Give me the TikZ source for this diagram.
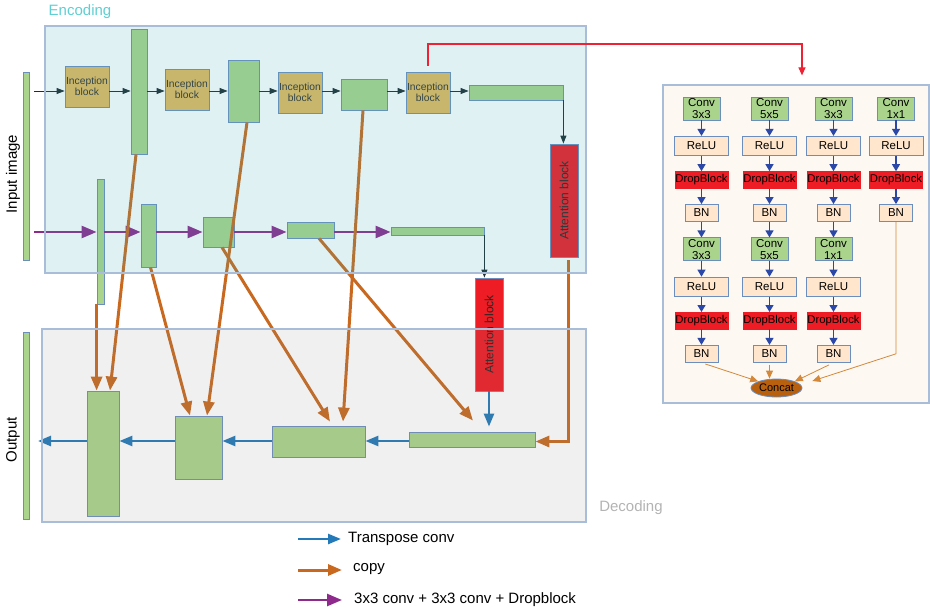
\documentclass[tikz,border=0pt]{standalone}
\usepackage{fontspec}
\setmainfont{Liberation Sans}
\usepackage{graphicx}
\usepackage{xcolor}
\definecolor{edgeBlue}{HTML}{6C8EBF}
\definecolor{incGold}{HTML}{E3B960}
\definecolor{featGreen}{HTML}{AAD48B}
\definecolor{attnRed}{HTML}{EE1C24}
\definecolor{flowDark}{HTML}{1E2D33}
\definecolor{convPurple}{HTML}{8E2A8C}
\definecolor{copyOrange}{HTML}{C8691F}
\definecolor{upBlue}{HTML}{2479B9}
\definecolor{linkRed}{HTML}{EE2233}
\definecolor{encCyan}{HTML}{3CAAB4}
\definecolor{decGray}{HTML}{888888}
\definecolor{panelFill}{HTML}{FDF8F2}
\definecolor{panelEdge}{HTML}{A9BDD9}
\definecolor{reluFill}{HTML}{FFE6CC}
\definecolor{catBrown}{HTML}{B9600F}
\definecolor{arrNavy}{HTML}{2B47A8}
\definecolor{catLine}{HTML}{D4893A}
\definecolor{encText}{HTML}{5ECFD2}
\definecolor{decText}{HTML}{B3B3B3}
\usepackage{tikz}
\usetikzlibrary{shapes.geometric, arrows.meta, positioning, calc}

\begin{document}
\begin{tikzpicture}[
    x=1pt, y=-1pt,
    incbox/.style={draw=edgeBlue, fill=incGold, rectangle, align=center, inner sep=0pt, line width=0.8pt, font=\fontsize{10.3}{11.5}\selectfont, text=black!80, minimum width=44pt, minimum height=41pt},
    feat/.style={draw=edgeBlue, fill=featGreen, rectangle, inner sep=0pt, line width=0.8pt},
    attnbox/.style={draw=edgeBlue, fill=attnRed, rectangle, inner sep=0pt, line width=0.8pt, minimum width=28pt, minimum height=113pt, font=\fontsize{12}{12}\selectfont, text=black!85},
    flow/.style={-{Triangle[length=8pt, width=6pt]}, draw=flowDark, line width=0.8pt},
    convarr/.style={-{Triangle[length=15pt, width=12pt]}, draw=convPurple, line width=2.5pt},
    copyarr/.style={-{Triangle[length=14pt, width=11pt]}, draw=copyOrange, line width=3pt},
    uparr/.style={-{Triangle[length=13pt, width=10pt]}, draw=upBlue, line width=2.5pt},
    link/.style={-{Triangle[length=8pt, width=7pt]}, draw=linkRed, line width=1.2pt},
    overlay/.style={draw=panelEdge, line width=1.2pt, rectangle, inner sep=0pt},
    panelbox/.style={draw=panelEdge, fill=panelFill, rectangle, line width=1.2pt, inner sep=0pt},
    pconv/.style={draw=edgeBlue, fill=featGreen, rectangle, align=center, inner sep=0pt, line width=0.8pt, font=\fontsize{11.5}{11.5}\selectfont, minimum width=37pt, minimum height=23pt},
    prelu/.style={draw=edgeBlue, fill=reluFill, rectangle, inner sep=0pt, line width=0.8pt, font=\fontsize{11.5}{11.5}\selectfont, minimum width=54pt, minimum height=19pt},
    pdrop/.style={draw=attnRed, fill=attnRed, rectangle, inner sep=0pt, font=\fontsize{11.3}{11.3}\selectfont, minimum width=53pt, minimum height=17pt},
    pbn/.style={draw=edgeBlue, fill=reluFill, rectangle, inner sep=0pt, line width=0.8pt, font=\fontsize{11.5}{11.5}\selectfont, minimum width=33pt, minimum height=17pt},
    parr/.style={-{Triangle[length=7pt, width=8pt]}, draw=arrNavy, line width=1.2pt},
    cat/.style={-{Triangle[length=8pt, width=7pt]}, draw=catLine, line width=0.8pt},
    legtext/.style={anchor=west, inner sep=0pt, font=\fontsize{15}{15}\selectfont},
    bigtext/.style={font=\fontsize{15}{15}\selectfont, inner sep=0pt},
    node distance=15.5pt
]
\useasboundingbox (0,0) rectangle (930,610);

% input / output bars
\node[feat, minimum width=6pt, minimum height=188pt] (inbar) at (26,166) {};
\node[feat, minimum width=6pt, minimum height=187pt] (outbar) at (26,425.5) {};
\node[bigtext, rotate=90] (inlabel) at (13,174) {Input image};
\node[bigtext, rotate=90] (outlabel) at (13,440) {Output};

% encoder, inception path
\node[incbox] (inc1) at (87,86.5) {Inception\\block};
\node[feat, minimum width=16pt, minimum height=125pt] (g1) at (139,91.5) {};
\node[incbox] (inc2) at (187,89.5) {Inception\\block};
\node[feat, minimum width=31pt, minimum height=62pt] (g2) at (243.5,91) {};
\node[incbox] (inc3) at (300,92.5) {Inception\\block};
\node[feat, minimum width=46pt, minimum height=31pt] (g3) at (364,94.5) {};
\node[incbox] (inc4) at (428,92.5) {Inception\\block};
\node[feat, minimum width=94pt, minimum height=15pt] (g4) at (516,92.5) {};
\node[attnbox] (at1) at (564,200.5) {\rotatebox{90}{Attention block}};

% encoder, plain path
\node[feat, minimum width=7pt, minimum height=125pt] (gA) at (100.5,241.5) {};
\node[feat, minimum width=15pt, minimum height=63pt] (gB) at (148.5,235.5) {};
\node[feat, minimum width=31pt, minimum height=30pt] (gC) at (218.5,232) {};
\node[feat, minimum width=47pt, minimum height=16pt] (gD) at (310.5,230) {};
\node[feat, minimum width=93pt, minimum height=8pt] (gE) at (437.5,231) {};
\node[attnbox] (at2) at (489,334.5) {\rotatebox{90}{Attention block}};

% decoder
\node[feat, minimum width=32pt, minimum height=125pt] (d1) at (103,453.5) {};
\node[feat, minimum width=47pt, minimum height=63pt] (d2) at (198.5,447.5) {};
\node[feat, minimum width=93pt, minimum height=31pt] (d3) at (318.5,441.5) {};
\node[feat, minimum width=126pt, minimum height=15pt] (d4) at (472,439.5) {};

\coordinate (r1) at (0,91);
\coordinate (r2) at (0,232);
\coordinate (r3) at (0,441);
\coordinate (in1) at (34,91);
\coordinate (in2) at (34,232);
\coordinate (outtip) at (38,441);

\draw[flow] (in1) -- (in1 -| inc1.west);
\draw[flow] (inc1.east |- r1) -- (g1.west |- r1);
\draw[flow] (g1.east |- r1) -- (inc2.west |- r1);
\draw[flow] (inc2.east |- r1) -- (g2.west |- r1);
\draw[flow] (g2.east |- r1) -- (inc3.west |- r1);
\draw[flow] (inc3.east |- r1) -- (g3.west |- r1);
\draw[flow] (g3.east |- r1) -- (inc4.west |- r1);
\draw[flow] (inc4.east |- r1) -- (g4.west |- r1);
\draw[flow] (g4.south east) -- (g4.south east |- at1.north);

\draw[convarr] (in2) -- (in2 -| gA.west);
\draw[convarr] (gA.east |- r2) -- (gB.west |- r2);
\draw[convarr] (gB.east |- r2) -- (gC.west |- r2);
\draw[convarr] (gC.east |- r2) -- (gD.west |- r2);
\draw[convarr] (gD.east |- r2) -- (gE.west |- r2);
\draw[flow] (gE.south east) -- (gE.south east |- at2.north);

\draw[uparr] (d4.west |- r3) -- (d3.east |- r3);
\draw[uparr] (d3.west |- r3) -- (d2.east |- r3);
\draw[uparr] (d2.west |- r3) -- (d1.east |- r3);
\draw[uparr] (d1.west |- r3) -- (outtip);
\draw[uparr, shorten >=5pt] (at2.south) -- (at2.south |- d4.north);

% skip connections
\draw[copyarr] (gA.south west) -- (gA.south west |- d1.north);
\draw[copyarr] ([xshift=-3pt]g1.south) -- ([xshift=7pt]d1.north);
\draw[copyarr] ([xshift=2pt]gB.south) -- ([xshift=-8.5pt]d2.north);
\draw[copyarr] ([xshift=3.5pt]g2.south) -- ([xshift=8.5pt]d2.north);
\draw[copyarr] ([xshift=3.5pt]gC.south) -- ([xshift=11.5pt, yshift=4pt]d3.north);
\draw[copyarr] ([xshift=-1pt]g3.south) -- ([xshift=24.5pt, yshift=4pt]d3.north);
\draw[copyarr] ([xshift=8.5pt]gD.south) -- ([xshift=1pt, yshift=11pt]d4.north);
\draw[copyarr, shorten <=3pt] ([xshift=4pt]at1.south) |- ([yshift=-2pt]d4.east);

% encoding / decoding areas
\node[overlay, fill=encCyan, fill opacity=0.16, minimum width=541pt, minimum height=247pt] (enc) at (315.5,149.5) {};
\node[overlay, fill=decGray, fill opacity=0.13, minimum width=544pt, minimum height=193pt] (dec) at (314,425.5) {};
\node[bigtext, text=encText] (enclabel) at (80,12) {Encoding};
\node[bigtext, text=decText] (declabel) at (631,508) {Decoding};

% inception block detail
\node[panelbox, minimum width=266pt, minimum height=318pt] (panel) at (796,244) {};
\coordinate (rc) at (802,44);
\draw[link, shorten <=6pt, shorten >=9pt] (inc4.north) |- (rc) -- (rc |- panel.north);

\node[pconv] (conv1) at (701.5,108.5) {Conv\\3x3};
\node[prelu, below=of conv1] (relu1) {ReLU};
\node[pdrop, below=of relu1] (drop1) {DropBlock};
\node[pbn, below=of drop1] (bn1) {BN};
\node[pconv, below=of bn1] (convx1) {Conv\\3x3};
\node[prelu, below=of convx1] (relux1) {ReLU};
\node[pdrop, below=of relux1] (dropx1) {DropBlock};
\node[pbn, below=of dropx1] (bnx1) {BN};

\node[pconv] (conv2) at (769.5,108.5) {Conv\\5x5};
\node[prelu, below=of conv2] (relu2) {ReLU};
\node[pdrop, below=of relu2] (drop2) {DropBlock};
\node[pbn, below=of drop2] (bn2) {BN};
\node[pconv, below=of bn2] (convx2) {Conv\\5x5};
\node[prelu, below=of convx2] (relux2) {ReLU};
\node[pdrop, below=of relux2] (dropx2) {DropBlock};
\node[pbn, below=of dropx2] (bnx2) {BN};

\node[pconv] (conv3) at (833.5,108.5) {Conv\\3x3};
\node[prelu, below=of conv3] (relu3) {ReLU};
\node[pdrop, below=of relu3] (drop3) {DropBlock};
\node[pbn, below=of drop3] (bn3) {BN};
\node[pconv, below=of bn3] (convx3) {Conv\\1x1};
\node[prelu, below=of convx3] (relux3) {ReLU};
\node[pdrop, below=of relux3] (dropx3) {DropBlock};
\node[pbn, below=of dropx3] (bnx3) {BN};

\node[pconv] (conv4) at (896,108.5) {Conv\\1x1};
\node[prelu, below=of conv4] (relu4) {ReLU};
\node[pdrop, below=of relu4] (drop4) {DropBlock};
\node[pbn, below=of drop4] (bn4) {BN};

\node[ellipse, draw=edgeBlue, fill=catBrown, line width=0.8pt, inner sep=0pt, minimum width=51pt, minimum height=18pt, font=\fontsize{11}{11}\selectfont] (concat) at (776.5,388) {Concat};

\foreach \c in {1,2,3,4} {
  \draw[parr] (conv\c) -- (relu\c);
  \draw[parr] (relu\c) -- (drop\c);
  \draw[parr] (drop\c) -- (bn\c);
}
\foreach \c in {1,2,3} {
  \draw[parr] (bn\c) -- (convx\c);
  \draw[parr] (convx\c) -- (relux\c);
  \draw[parr] (relux\c) -- (dropx\c);
  \draw[parr] (dropx\c) -- (bnx\c);
}

\draw[cat, shorten <=4pt] (bnx1.south) -- (concat.north west);
\draw[cat, shorten <=2pt] (bnx2.south) -- (bnx2.south |- concat.north);
\draw[cat, shorten <=5pt] (bnx3.south) -- (concat.north east);
\draw[cat] (bn4.south) -- (bn4.south |- bnx3) -- ([xshift=10pt, yshift=7pt]concat.east);

% legend
\node[legtext] (legT) at (348,539) {Transpose conv};
\node[legtext] (legC) at (353,569) {copy};
\node[legtext] (legP) at (354,600) {3x3 conv + 3x3 conv + Dropblock};
\coordinate (lgT) at (298,539);
\coordinate (lgC) at (298,570);
\coordinate (lgP) at (298,600);
\draw[uparr, shorten >=7pt] (lgT) -- (lgT -| legT.west);
\draw[copyarr, shorten >=11pt] (lgC) -- (lgC -| legC.west);
\draw[convarr, shorten >=12pt] (lgP) -- (lgP -| legP.west);

\end{tikzpicture}
\end{document}
